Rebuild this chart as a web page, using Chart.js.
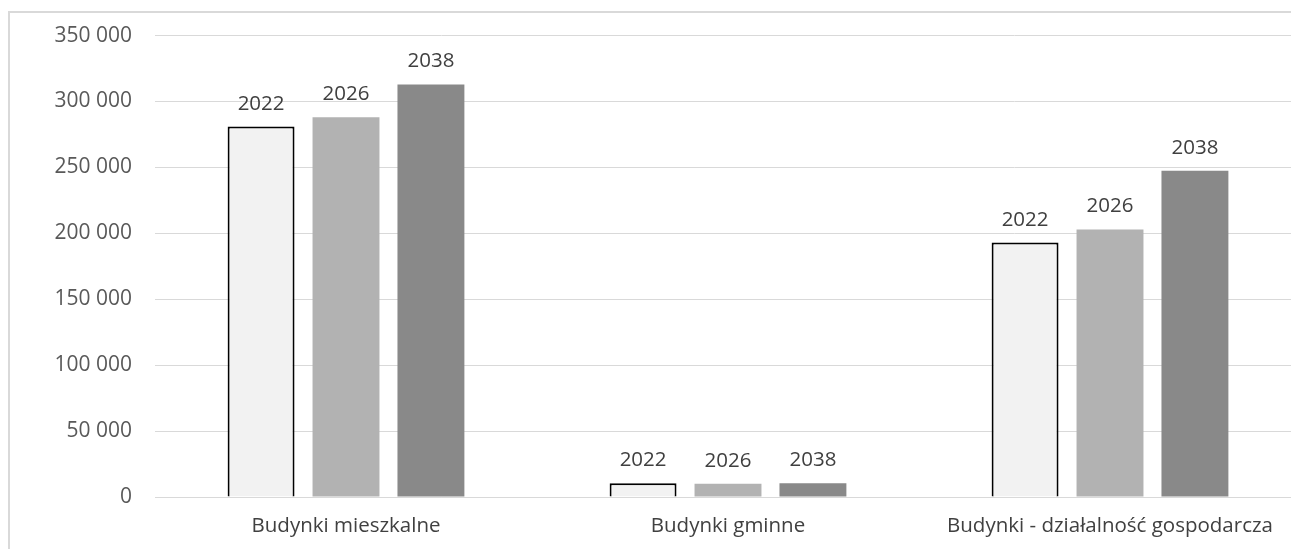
<!DOCTYPE html>
<html>
<head>
<meta charset="utf-8">
<script src="https://cdn.jsdelivr.net/npm/chart.js@4/dist/chart.umd.min.js"></script>
<style>
    body { margin: 0; overflow: hidden; background: #fff; }
    #okno { position: absolute; left: 0; top: 0; width: 1291px; height: 549px; overflow: hidden; }
    #wykres { position: absolute; left: 0; top: 0; }
</style>
</head>
<body>
<div id="okno">
    <canvas id="wykres" width="1320" height="549"></canvas>
</div>

<script>

// Dane
const kategorie = ['Budynki mieszkalne', 'Budynki gminne', 'Budynki - działalność gospodarcza'];
const lata = ['2022', '2026', '2038'];
const wartosci2022 = [281000, 10400, 193000];
const wartosci2026 = [288000, 10100, 203000];
const wartosci2038 = [313000, 10400, 247500];
const ticksY = [0, 50000, 100000, 150000, 200000, 250000, 300000, 350000];

const czcionka = "'Open Sans', sans-serif";

// ramka wykresu (widoczna tylko lewa i gorna krawedz)
const ramka = {
    id: 'ramka',
    beforeDraw(chart) {
        const ctx = chart.ctx;
        ctx.save();
        ctx.strokeStyle = '#d9d9d9';
        ctx.lineWidth = 2;
        ctx.beginPath();
        ctx.moveTo(9, chart.height);
        ctx.lineTo(9, 12);
        ctx.lineTo(chart.width, 12);
        ctx.stroke();
        ctx.restore();
    }
};

// etykieta z rokiem nad kazdym slupkiem
const etykiety = {
    id: 'etykiety',
    afterDatasetsDraw(chart) {
        const ctx = chart.ctx;
        ctx.save();
        ctx.font = '20.5px ' + czcionka;
        ctx.fillStyle = '#404040';
        ctx.textAlign = 'center';
        ctx.textBaseline = 'alphabetic';
        chart.data.datasets.forEach(function (ds, i) {
            chart.getDatasetMeta(i).data.forEach(function (bar) {
                ctx.fillText(ds.label, bar.x, bar.y - 17);
            });
        });
        ctx.restore();
    }
};

const dane = {
    labels: kategorie,
    datasets: [
        {
            label: lata[0],
            data: wartosci2022,
            backgroundColor: '#f2f2f2',
            borderColor: '#000000',
            borderWidth: 2
        },
        {
            label: lata[1],
            data: wartosci2026,
            backgroundColor: '#b2b2b2'
        },
        {
            label: lata[2],
            data: wartosci2038,
            backgroundColor: '#898989'
        }
    ]
};

new Chart(document.getElementById('wykres'), {
    type: 'bar',
    data: dane,
    plugins: [ramka, etykiety],
    options: {
        responsive: false,
        animation: false,
        layout: { padding: { left: 0, top: 35, right: 19, bottom: 0 } },
        datasets: {
            bar: { categoryPercentage: 0.667, barPercentage: 0.788 }
        },
        plugins: {
            legend: { display: false },
            tooltip: { enabled: false }
        },
        scales: {
            x: {
                grid: { display: false, drawTicks: false },
                border: { display: true, color: '#d9d9d9', width: 1 },
                ticks: { color: '#404040', padding: 17, font: { family: czcionka, size: 20.5 } },
                afterFit: function (s) { s.height = 52; }
            },
            y: {
                min: 0,
                max: 350000,
                afterBuildTicks: function (s) { s.ticks = ticksY.map(v => ({ value: v })); },
                grid: { color: '#d9d9d9', lineWidth: 1, drawTicks: false },
                border: { display: false },
                ticks: {
                    color: '#595959',
                    padding: 23,
                    font: { family: czcionka, size: 21 },
                    callback: function (v) { return v.toString().replace(/\B(?=(\d{3})+(?!\d))/g, ' '); }
                },
                afterFit: function (s) { s.width = 155; }
            }
        }
    }
});

</script>
</body>
</html>
